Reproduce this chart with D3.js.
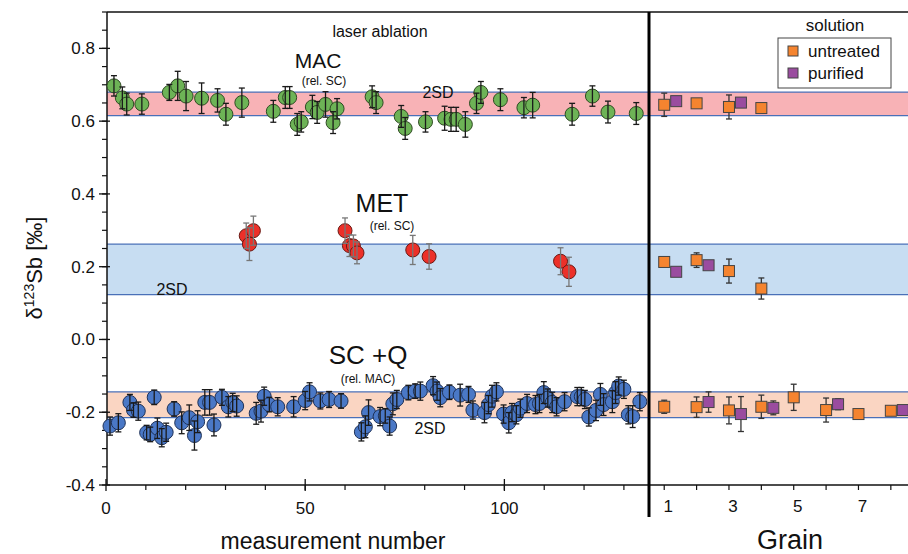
<!DOCTYPE html>
<html>
<head>
<meta charset="utf-8">
<script src="https://cdn.jsdelivr.net/npm/d3@7"></script>
<style>
  body { margin: 0; background: #fff; }
  text { font-family: "Liberation Sans", Arial, sans-serif; fill: #111; }
  .narrow { font-family: "Liberation Sans Narrow", "Liberation Sans", Arial, sans-serif; }
</style>
</head>
<body>
<div id="chart"></div>
<script>
// MAC (laser ablation, green)
const macX = [2, 4.1, 5.2, 9, 15.9, 18, 20.1, 24, 28, 30.1, 34.1, 42, 45, 46.1, 48, 49, 51.8, 53, 55.1, 57, 58, 66.8, 67.8,
  74.1, 75.1, 80.2, 85, 86.6, 87.9, 90.2, 93, 94.1, 99, 104.9, 107.1, 117, 122.1, 126, 133.1];
const macY = [0.697, 0.664, 0.647, 0.647, 0.679, 0.697, 0.669, 0.663, 0.657, 0.619, 0.651, 0.627, 0.665, 0.665, 0.591, 0.598, 0.639, 0.624, 0.646, 0.596, 0.634, 0.667, 0.651,
  0.613, 0.580, 0.598, 0.608, 0.605, 0.605, 0.591, 0.649, 0.679, 0.659, 0.637, 0.644, 0.619, 0.669, 0.625, 0.621];
const macErr = [0.028, 0.03, 0.03, 0.028, 0.022, 0.04, 0.04, 0.042, 0.032, 0.03, 0.04, 0.03, 0.03, 0.03, 0.03, 0.028, 0.032, 0.03, 0.035, 0.03, 0.028, 0.03, 0.03,
  0.03, 0.03, 0.028, 0.033, 0.033, 0.033, 0.035, 0.028, 0.03, 0.03, 0.028, 0.035, 0.03, 0.028, 0.03, 0.03];

// MET (laser ablation, red)
const metX = [35.2, 37, 36, 60, 61.1, 62.1, 63, 77, 81.1, 114.1, 116.2];
const metY = [0.285, 0.299, 0.262, 0.299, 0.258, 0.257, 0.238, 0.246, 0.228, 0.215, 0.186];
const metErr = [0.035, 0.04, 0.045, 0.035, 0.03, 0.03, 0.03, 0.04, 0.035, 0.037, 0.04];

// SC +Q (laser ablation, blue)
const scX = [1, 3.1, 6, 6.9, 8.1, 10.2, 11.1, 12.1, 12.9, 14, 15.1, 17.1, 19, 20.9, 22.2, 23, 24.8, 26, 27.1, 29.1, 30.7, 31.8, 32.8,
  37.7, 38.9, 39.7, 41, 43.1, 47.1, 50, 51.1, 53.8, 56, 59, 64.1, 65.1, 65.9, 68.8, 70.1, 71.2, 72, 73, 75.9, 77.6, 78.9,
  82.1, 83.1, 83.9, 86.2, 88.9, 91, 92.1, 95, 96, 96.9, 98, 99.8, 101.1, 101.9, 103, 104, 105.7, 107.8, 108.8, 109.9,
  110.9, 112, 113.1, 115.1, 118.3, 119.3, 120.2, 121.2, 123, 124.1, 124.9, 127.1, 127.9, 128.7, 130, 131.1, 132.2, 134];
const scY = [-0.238, -0.229, -0.173, -0.194, -0.197, -0.256, -0.261, -0.159, -0.244, -0.270, -0.255, -0.191, -0.229, -0.215, -0.264, -0.226, -0.173, -0.173, -0.235, -0.159, -0.185, -0.173, -0.183,
  -0.203, -0.197, -0.156, -0.179, -0.185, -0.185, -0.168, -0.144, -0.169, -0.165, -0.169, -0.254, -0.240, -0.201, -0.212, -0.210, -0.238, -0.177, -0.165, -0.146, -0.142, -0.142,
  -0.127, -0.142, -0.160, -0.145, -0.153, -0.151, -0.194, -0.201, -0.179, -0.156, -0.144, -0.205, -0.229, -0.201, -0.207, -0.189, -0.176, -0.179, -0.176, -0.146,
  -0.161, -0.173, -0.185, -0.171, -0.157, -0.157, -0.165, -0.213, -0.195, -0.151, -0.179, -0.171, -0.146, -0.128, -0.137, -0.207, -0.212, -0.171];
const scErr = [0.025, 0.025, 0.022, 0.02, 0.025, 0.02, 0.02, 0.02, 0.028, 0.025, 0.025, 0.02, 0.03, 0.035, 0.04, 0.03, 0.035, 0.035, 0.03, 0.022, 0.028, 0.025, 0.028,
  0.03, 0.03, 0.025, 0.02, 0.025, 0.028, 0.025, 0.025, 0.022, 0.022, 0.02, 0.025, 0.03, 0.035, 0.025, 0.02, 0.025, 0.03, 0.025, 0.02, 0.02, 0.025,
  0.025, 0.025, 0.025, 0.02, 0.03, 0.022, 0.025, 0.028, 0.025, 0.03, 0.025, 0.025, 0.028, 0.025, 0.025, 0.025, 0.025, 0.025, 0.025, 0.03,
  0.025, 0.028, 0.025, 0.025, 0.025, 0.025, 0.025, 0.025, 0.028, 0.03, 0.03, 0.03, 0.03, 0.025, 0.025, 0.025, 0.03, 0.025];

// 2SD bands [low, high]
const bandNames = ["MAC", "MET", "SC"];
const bandLow = [0.615, 0.123, -0.215];
const bandHigh = [0.68, 0.262, -0.144];
const bandColors = ["#f8b2b6", "#c7ddf2", "#fad5c2"];

// solution measurements, per grain (null err = no bar)
const untrMacGrain = [1, 2, 3, 4];
const untrMacY = [0.645, 0.649, 0.639, 0.636];
const untrMacErr = [0.032, null, 0.033, null];
const purMacGrain = [1, 3];
const purMacY = [0.655, 0.651];
const purMacErr = [null, null];

const untrMetGrain = [1, 2, 3, 4];
const untrMetY = [0.213, 0.218, 0.188, 0.140];
const untrMetErr = [null, 0.02, 0.033, 0.029];
const purMetGrain = [1, 2];
const purMetY = [0.186, 0.204];
const purMetErr = [null, null];

const untrScGrain = [1, 2, 3, 4, 5, 6, 7, 8];
const untrScY = [-0.185, -0.186, -0.195, -0.185, -0.159, -0.194, -0.205, -0.196];
const untrScErr = [0.018, 0.028, 0.037, 0.032, 0.036, 0.033, null, null];
const purScGrain = [2, 3, 4, 6, 8];
const purScY = [-0.172, -0.205, -0.188, -0.178, -0.194];
const purScErr = [0.028, 0.048, 0.019, 0.015, null];

const yTicks = [-0.4, -0.2, 0.0, 0.2, 0.4, 0.6, 0.8];
const xTicks = [0, 50, 100];
const grainTicks = [1, 2, 3, 4, 5, 6, 7, 8];
const grainLabels = [1, 3, 5, 7];

const width = 908, height = 554;
const plotLeft = 107, plotTop = 12, plotBottom = 485, split = 649, plotRight = 908;

const svg = d3.select("#chart").append("svg")
  .attr("width", width).attr("height", height);

const x = d3.scaleLinear().domain([0, 136.3]).range([106, split]);
const xg = d3.scaleLinear().domain([0.53, 8.53]).range([split, plotRight]);
const y = d3.scaleLinear().domain([-0.4, 0.9]).range([plotBottom, plotTop]);
const purOffset = 0.37;

// bands
bandNames.forEach((n, i) => {
  svg.append("rect")
    .attr("x", plotLeft).attr("width", plotRight - plotLeft)
    .attr("y", y(bandHigh[i])).attr("height", y(bandLow[i]) - y(bandHigh[i]))
    .attr("fill", bandColors[i]);
  [bandLow[i], bandHigh[i]].forEach(v => {
    svg.append("line")
      .attr("x1", plotLeft).attr("x2", plotRight)
      .attr("y1", y(v)).attr("y2", y(v))
      .attr("stroke", "#4a70b8").attr("stroke-width", 1.3);
  });
});

// frame / axes
svg.append("line").attr("x1", plotLeft).attr("x2", plotRight).attr("y1", plotTop).attr("y2", plotTop)
  .attr("stroke", "#111").attr("stroke-width", 1.5);
svg.append("line").attr("x1", plotLeft).attr("x2", plotLeft).attr("y1", plotTop).attr("y2", plotBottom)
  .attr("stroke", "#111").attr("stroke-width", 1.5);
svg.append("line").attr("x1", plotLeft).attr("x2", plotRight).attr("y1", plotBottom).attr("y2", plotBottom)
  .attr("stroke", "#111").attr("stroke-width", 1.5);

// y ticks
const yMinor = d3.range(-0.4, 0.901, 0.05);
svg.append("g").selectAll("line").data(yMinor).join("line")
  .attr("x1", plotLeft - 5).attr("x2", plotLeft)
  .attr("y1", d => y(d)).attr("y2", d => y(d))
  .attr("stroke", "#111").attr("stroke-width", 1.2);
svg.append("g").selectAll("line").data(yTicks).join("line")
  .attr("x1", plotLeft - 8).attr("x2", plotLeft + 3)
  .attr("y1", d => y(d)).attr("y2", d => y(d))
  .attr("stroke", "#111").attr("stroke-width", 1.3);
svg.append("g").selectAll("text").data(yTicks).join("text")
  .attr("x", plotLeft - 12).attr("y", d => y(d) + 6)
  .attr("text-anchor", "end").style("font-size", "17px")
  .text(d => d3.format(".1f")(d).replace("−", "-"));

// x ticks (measurement number)
svg.append("g").selectAll("line").data(d3.range(10, 131, 10)).join("line")
  .attr("x1", d => x(d)).attr("x2", d => x(d))
  .attr("y1", plotBottom).attr("y2", plotBottom + 5)
  .attr("stroke", "#111").attr("stroke-width", 1.2);
svg.append("g").selectAll("line").data(xTicks).join("line")
  .attr("x1", d => x(d)).attr("x2", d => x(d))
  .attr("y1", plotBottom - 6).attr("y2", plotBottom + 6)
  .attr("stroke", "#111").attr("stroke-width", 1.3);
svg.append("g").selectAll("text").data(xTicks).join("text")
  .attr("class", "narrow")
  .attr("x", d => x(d)).attr("y", plotBottom + 29)
  .attr("text-anchor", "middle").style("font-size", "17px")
  .text(d => d);

// grain ticks
svg.append("g").selectAll("line").data(grainTicks).join("line")
  .attr("x1", d => xg(d)).attr("x2", d => xg(d))
  .attr("y1", plotBottom).attr("y2", plotBottom + 5)
  .attr("stroke", "#111").attr("stroke-width", 1.2);
svg.append("g").selectAll("text").data(grainLabels).join("text")
  .attr("class", "narrow")
  .attr("x", d => xg(d) + 4).attr("y", plotBottom + 27)
  .attr("text-anchor", "middle").style("font-size", "17px")
  .text(d => d);

// divider
svg.append("line").attr("x1", split).attr("x2", split).attr("y1", plotTop).attr("y2", 517)
  .attr("stroke", "#000").attr("stroke-width", 3);

// circles + error bars
function circles(xs, ys, errs, fill, stroke, barColor) {
  const data = xs.map((d, i) => ({ x: d, y: ys[i], e: errs[i] }));
  const g = svg.append("g");
  g.selectAll("circle").data(data).join("circle")
    .attr("cx", d => x(d.x)).attr("cy", d => y(d.y)).attr("r", 7)
    .attr("fill", fill).attr("stroke", stroke).attr("stroke-width", 1);
  const b = g.selectAll("g.bar").data(data).join("g").attr("class", "bar")
    .attr("stroke", barColor).attr("stroke-width", 1.3);
  b.append("line")
    .attr("x1", d => x(d.x)).attr("x2", d => x(d.x))
    .attr("y1", d => y(d.y + d.e)).attr("y2", d => y(d.y - d.e));
  [1, -1].forEach(s => {
    b.append("line")
      .attr("x1", d => x(d.x) - 3).attr("x2", d => x(d.x) + 3)
      .attr("y1", d => y(d.y + s * d.e)).attr("y2", d => y(d.y + s * d.e));
  });
}
circles(macX, macY, macErr, "#6db356", "#2e4a22", "#1a1a1a");
circles(metX, metY, metErr, "#ec3029", "#6a1a14", "#777");
circles(scX, scY, scErr, "#4a78c6", "#1f3258", "#1a1a1a");

// squares + error bars
function squares(gs, ys, errs, fill, off) {
  const data = gs.map((d, i) => ({ g: d + off, y: ys[i], e: errs[i] }));
  const g = svg.append("g");
  const wb = data.filter(d => d.e != null);
  const b = g.selectAll("g.bar").data(wb).join("g").attr("stroke", "#333").attr("stroke-width", 1.3);
  b.append("line")
    .attr("x1", d => xg(d.g)).attr("x2", d => xg(d.g))
    .attr("y1", d => y(d.y + d.e)).attr("y2", d => y(d.y - d.e));
  [1, -1].forEach(s => {
    b.append("line")
      .attr("x1", d => xg(d.g) - 3).attr("x2", d => xg(d.g) + 3)
      .attr("y1", d => y(d.y + s * d.e)).attr("y2", d => y(d.y + s * d.e));
  });
  g.selectAll("rect").data(data).join("rect")
    .attr("x", d => xg(d.g) - 5.5).attr("y", d => y(d.y) - 5.5)
    .attr("width", 11).attr("height", 11)
    .attr("fill", fill).attr("stroke", "#444").attr("stroke-width", 1);
}
const orange = "#f5842f", purple = "#9a4c9f";
squares(untrMacGrain, untrMacY, untrMacErr, orange, 0);
squares(purMacGrain, purMacY, purMacErr, purple, purOffset);
squares(untrMetGrain, untrMetY, untrMetErr, orange, 0);
squares(purMetGrain, purMetY, purMetErr, purple, purOffset);
squares(untrScGrain, untrScY, untrScErr, orange, 0);
squares(purScGrain, purScY, purScErr, purple, purOffset);

// annotations
const ann = (t, ax, ay, size, anchor) => svg.append("text")
  .attr("x", ax).attr("y", ay).attr("text-anchor", anchor || "middle")
  .style("font-size", size + "px").text(t);
ann("laser ablation", 380, 37, 16);
ann("MAC", 318, 68, 21);
ann("(rel. SC)", 324, 85, 12);
ann("2SD", 438, 98, 16);
ann("MET", 382, 212, 25);
ann("(rel. SC)", 392, 230, 12);
ann("2SD", 172, 295, 16);
ann("SC +Q", 368, 364, 26);
ann("(rel. MAC)", 368, 383, 12);
ann("2SD", 430, 434, 16);

// legend
ann("solution", 835, 31, 17);
svg.append("rect").attr("x", 778).attr("y", 38).attr("width", 113).attr("height", 50)
  .attr("fill", "#fff").attr("stroke", "#444").attr("stroke-width", 1);
[["untreated", orange, 51], ["purified", purple, 73]].forEach(([t, c, cy]) => {
  svg.append("rect").attr("x", 788).attr("y", cy - 5).attr("width", 10).attr("height", 10)
    .attr("fill", c).attr("stroke", "#444");
  svg.append("text").attr("x", 808).attr("y", cy + 6).style("font-size", "17px").text(t);
});

// axis titles
svg.append("text").attr("class", "narrow").attr("x", 333).attr("y", 549)
  .attr("text-anchor", "middle").style("font-size", "23px").text("measurement number");
svg.append("text").attr("class", "narrow").attr("x", 790).attr("y", 549)
  .attr("text-anchor", "middle").style("font-size", "27px").text("Grain");
const yl = svg.append("text")
  .attr("transform", "translate(42,268) rotate(-90)")
  .attr("text-anchor", "middle").style("font-size", "22px");
yl.append("tspan").text("δ");
yl.append("tspan").attr("dy", -8).style("font-size", "14px").text("123");
yl.append("tspan").attr("dy", 8).text("Sb [‰]");
</script>
</body>
</html>
